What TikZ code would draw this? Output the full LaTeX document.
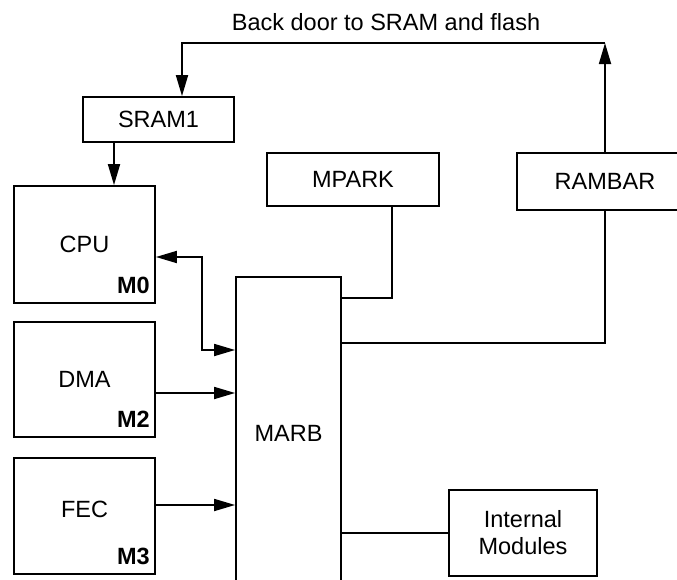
\documentclass[tikz,border=0pt]{standalone}
\usepackage{fontspec}
\setmainfont{Liberation Sans}
\usetikzlibrary{arrows.meta,calc}
\begin{document}
\begin{tikzpicture}[x=1pt,y=-1pt,
  box/.style={draw, line width=1.8pt, inner sep=0pt, align=center, font=\fontsize{23.5}{27}\selectfont},
  txt/.style={inner sep=0pt, align=center, font=\fontsize{23.5}{27}\selectfont},
  tag/.style={inner sep=0pt, anchor=base east, font=\fontsize{23.5}{27}\selectfont\bfseries},
  conn/.style={line width=1.8pt},
  arr/.style={conn, -{Triangle[length=21pt,width=12pt]}},
  darr/.style={conn, {Triangle[length=21pt,width=12pt]}-{Triangle[length=21pt,width=12pt]}}]
\useasboundingbox (0,0) rectangle (677,579);
\clip (0,0) rectangle (677,579);
% title
\node[txt] (title) at (386,22) {Back door to SRAM and flash};
% boxes
\node[box, minimum width=151, minimum height=45] (sram) at (158.5,119.5) {SRAM1};
\node[box, minimum width=141, minimum height=117] (cpu) at (84.5,244.5) {CPU};
\node[box, minimum width=141, minimum height=115] (dma) at (84.5,379.5) {DMA};
\node[box, minimum width=141, minimum height=116] (fec) at (84.5,516) {};
\node[txt] (fectext) at ($(fec.center)+(0,-7)$) {FEC};
\node[tag] (m0) at ($(cpu.south east)+(-6,-10)$) {M0};
\node[tag] (m2) at ($(dma.south east)+(-6,-10)$) {M2};
\node[tag] (m3) at ($(fec.south east)+(-6,-10)$) {M3};
\node[box, minimum width=172, minimum height=53] (mpark) at (353,179.5) {MPARK};
\node[box, minimum width=176, minimum height=57] (rambar) at (605,181.5) {RAMBAR};
\node[box, minimum width=105, minimum height=330] (marb) at (288.5,442) {};
\node[txt] (marbtext) at (288.5,433) {MARB};
\node[box, minimum width=148, minimum height=86] (intm) at (523,533) {Internal\\Modules};
% helper coordinates
\coordinate (tr) at (605,43);
\coordinate (sx) at (182,0);
\coordinate (c1) at (114,0);
\coordinate (cy) at (0,257);
\coordinate (my) at (0,350);
\coordinate (dy) at (0,393);
\coordinate (fy) at (0,505);
\coordinate (py) at (0,298);
\coordinate (px) at (392,0);
\coordinate (ry) at (0,343);
% connectors
\draw[arr] (rambar.north) -- (tr);
\draw[arr] (tr) -| (sx |- sram.north);
\draw[arr] (c1 |- sram.south) -- (c1 |- cpu.north);
\draw[darr] (cpu.east |- cy) -- (202,257) -- (202,350) -- (marb.west |- my);
\draw[arr] (dma.east |- dy) -- (marb.west |- dy);
\draw[arr] (fec.east |- fy) -- (marb.west |- fy);
\draw[conn] (marb.east |- py) -| (px |- mpark.south);
\draw[conn] (marb.east |- ry) -| (rambar.south);
\draw[conn] (marb.east |- intm.west) -- (intm.west);
\end{tikzpicture}
\end{document}
